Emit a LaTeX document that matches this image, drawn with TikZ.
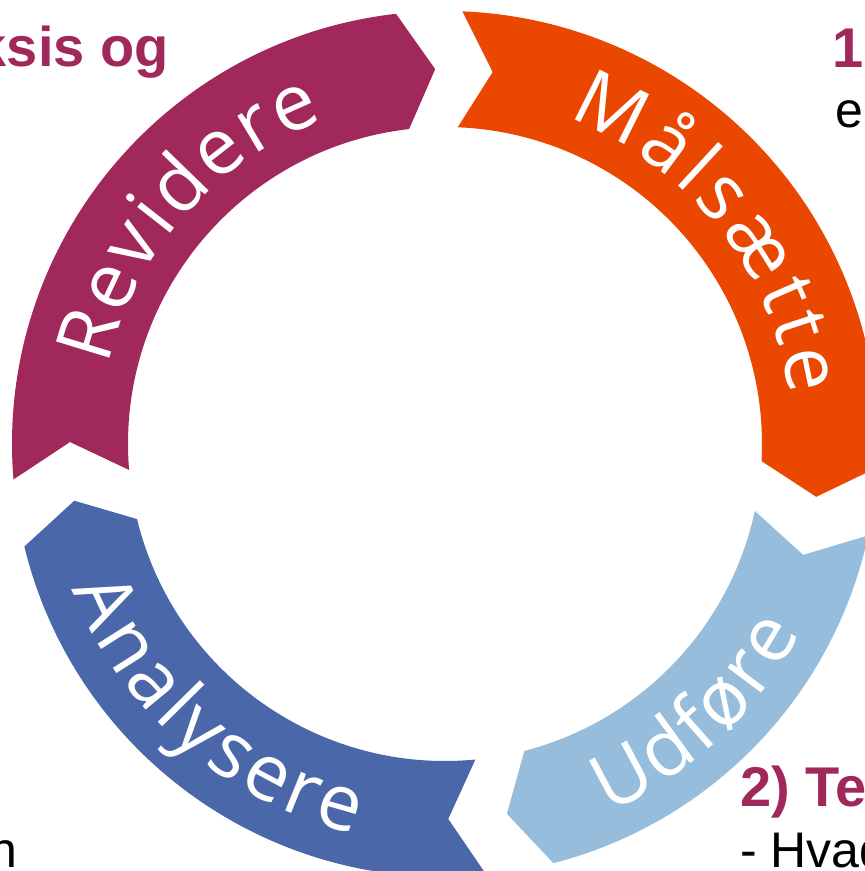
\documentclass[tikz,border=0pt]{standalone}
\usepackage{fontspec}
\setmainfont{Liberation Sans}
\newfontfamily\ringfont{Open Sans}
\usetikzlibrary{calc,decorations.text}

\definecolor{revpurple}{HTML}{A0285A}
\definecolor{maalorange}{HTML}{EA4700}
\definecolor{udfblue}{HTML}{96BEDC}
\definecolor{anablue}{HTML}{4A68A9}

\tikzset{
  heading/.style={font=\bfseries\fontsize{56}{56}\selectfont, text=revpurple, inner sep=0pt},
  bodytext/.style={font=\fontsize{50}{50}\selectfont, text=black, inner sep=0pt},
}

% one arrow of the ring: colour, tail angle, head angle
\newcommand{\ringarrow}[3]{%
  \fill[#1] ($(c)+(#2+5:433pt)$) arc[start angle=#2+5, end angle=#3+5, radius=433pt]
    -- ($(c)+(#3:375pt)$) -- ($(c)+(#3+5:317pt)$)
    arc[start angle=#3+5, end angle=#2+5, radius=317pt]
    -- ($(c)+(#2:375pt)$) -- cycle;}
% white word set along the ring: start angle, end angle, radius, word
\newcommand{\ringlabel}[4]{%
  \path[decorate, decoration={text along path, text color=white, text align=fit to path,
    text={|\ringfont\fontsize{78}{78}\selectfont|#4}}]
    ($(c)+(#1:#3)$) arc[start angle=#1, end angle=#2, radius=#3];}

\begin{document}
\begin{tikzpicture}[x=1pt,y=1pt]
\useasboundingbox (0,0) rectangle (865,871);
\clip (0,0) rectangle (865,871);
\coordinate (c) at (445,427);
% ring
\ringarrow{maalorange}{82.7}{-8.1}
\ringarrow{udfblue}{-17.2}{-80.5}
\ringarrow{anablue}{-89.5}{-171.3}
\ringarrow{revpurple}{179.7}{91.5}
% words on the ring
\ringlabel{69.3}{8}{348pt}{Målsætte}
\ringlabel{-66}{-28}{403pt}{Udføre}
\ringlabel{201.3}{257}{400pt}{Analysere}
\ringlabel{167}{110.5}{346pt}{Revidere}
% text beside the ring
\node[heading, anchor=base east] (praksis) at (169,804) {ksis og};
\node[heading, anchor=base west] (step1) at (832,803) {1};
\node[bodytext, anchor=base west] (step1txt) at (835,743) {en};
\node[heading, anchor=base west] (step2) at (740,64) {2) Te};
\node[bodytext, anchor=base west] (step2txt) at (740,3) {- Hvad};
\node[bodytext, anchor=base east] (leftcol) at (18,3) {n};
\end{tikzpicture}
\end{document}
